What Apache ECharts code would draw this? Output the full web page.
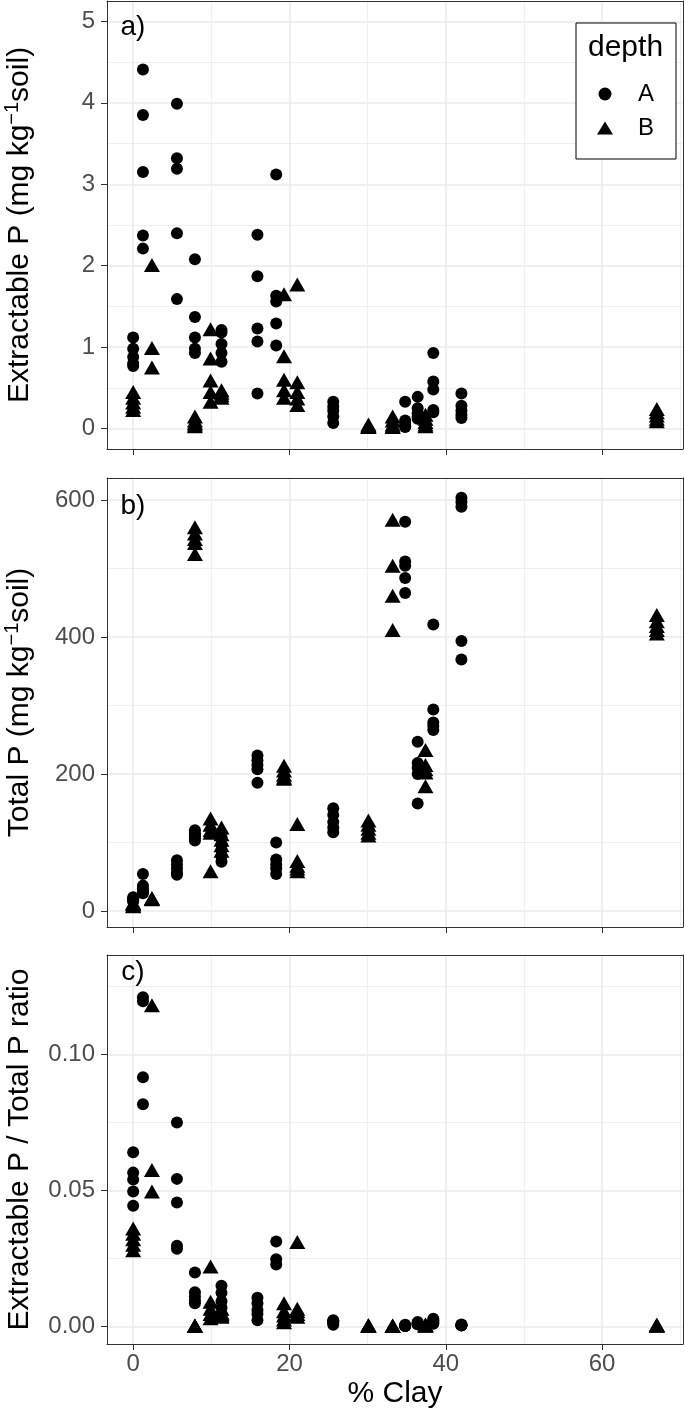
<!DOCTYPE html>
<html>
<head>
<meta charset="utf-8">
<script src="https://cdn.jsdelivr.net/npm/echarts@6.0.0/dist/echarts.min.js"></script>
<style>
html, body { margin: 0; padding: 0; background: #fff; }
#main { width: 685px; height: 1413px; }
</style>
</head>
<body>
<div id="main"></div>
<script>
var FONT = '"Liberation Sans", Arial, sans-serif';

// % clay of the sampling sites, depth A (circles) and depth B (triangles)
var clayA = [0, 1.25, 5.6, 7.9, 11.3, 15.9, 18.3, 25.6, 34.8, 36.4, 38.4, 42];
var clayB = [0, 2.4, 7.9, 9.9, 11.3, 19.3, 21, 30.1, 33.2, 37.4, 67];

// a) extractable P, one list per site
var extractA = [
  [1.12, 0.98, 0.88, 0.80, 0.77], [4.41, 3.85, 3.15, 2.37, 2.21], [3.99, 3.32, 3.19, 2.40, 1.59],
  [2.08, 1.37, 1.12, 0.98, 0.93], [1.21, 1.18, 1.04, 0.93, 0.82], [2.38, 1.87, 1.23, 1.07, 0.43],
  [3.12, 1.63, 1.56, 1.29, 1.02], [0.33, 0.27, 0.22, 0.15, 0.07], [0.33, 0.10, 0.06, 0.03, 0.02],
  [0.39, 0.25, 0.19, 0.15, 0.12], [0.93, 0.58, 0.48, 0.23, 0.20], [0.43, 0.28, 0.22, 0.17, 0.13]
];
var extractB = [
  [0.45, 0.38, 0.32, 0.27, 0.23], [2.01, 0.99, 0.75], [0.15, 0.10, 0.07, 0.05, 0.03],
  [1.22, 0.86, 0.59, 0.45, 0.33], [0.47, 0.44, 0.41, 0.38], [1.65, 0.89, 0.60, 0.47, 0.38],
  [1.77, 0.57, 0.45, 0.37, 0.29], [0.05, 0.04, 0.03, 0.02, 0.02], [0.15, 0.10, 0.05, 0.03, 0.02],
  [0.17, 0.12, 0.08, 0.05, 0.03], [0.24, 0.20, 0.16, 0.12, 0.09]
];

// b) total P
var totalA = [
  [20, 18, 17, 16, 14], [54, 37, 33, 29, 26], [74, 68, 62, 56, 53],
  [118, 113, 110, 106, 103], [108, 97, 89, 80, 72], [227, 220, 213, 207, 187],
  [100, 75, 68, 62, 54], [150, 140, 130, 122, 115], [568, 510, 504, 486, 464],
  [247, 216, 209, 200, 157], [418, 294, 275, 270, 264], [603, 597, 590, 394, 367]
];
var totalB = [
  [12, 11, 10, 8, 7], [19, 18, 17], [560, 551, 543, 537, 521],
  [135, 126, 118, 114, 58], [122, 112, 104, 96, 88], [212, 205, 199, 195, 193],
  [127, 73, 66, 62, 58], [132, 126, 120, 114, 110], [571, 504, 460, 410],
  [235, 213, 207, 202, 182], [432, 423, 416, 410, 405]
];

// c) extractable / total ratio
var ratioA = [
  [0.064, 0.0565, 0.054, 0.0496, 0.0443], [0.121, 0.1195, 0.0916, 0.0816], [0.0749, 0.0542, 0.0455, 0.0296, 0.0285],
  [0.0198, 0.0125, 0.011, 0.0095, 0.0085], [0.0149, 0.0123, 0.0092, 0.0068, 0.0043], [0.0105, 0.0085, 0.006, 0.0045, 0.0022],
  [0.0312, 0.0247, 0.0227], [0.0022, 0.002, 0.0017, 0.0012, 0.0006], [0.0006, 0.0002, 0.0001, 0.0001, 0.0001],
  [0.0016, 0.0012, 0.0009, 0.0008, 0.0008], [0.0028, 0.0022, 0.0018, 0.0012, 0.0009], [0.0007, 0.0005, 0.0004, 0.0004, 0.0003]
];
var ratioB = [
  [0.036, 0.034, 0.032, 0.030, 0.028], [0.118, 0.0575, 0.0496], [0.0003, 0.0002, 0.0001, 0.0001, 0.0001],
  [0.022, 0.009, 0.0065, 0.0045, 0.003], [0.0065, 0.005, 0.0045, 0.004, 0.0035], [0.0085, 0.0055, 0.004, 0.0025, 0.0015],
  [0.031, 0.0065, 0.0055, 0.0045, 0.0035], [0.0004, 0.0003, 0.0003, 0.0002, 0.0002], [0.0003, 0.0002, 0.0001, 0.0001],
  [0.0007, 0.0005, 0.0004, 0.0003, 0.0002], [0.0006, 0.0005, 0.0004, 0.0003, 0.0002]
];

var xMajor = [0, 20, 40, 60];
var xMinor = [10, 30, 50, 70];

function pairs(sites, vals) {
  var out = [];
  sites.forEach(function (x, i) {
    vals[i].forEach(function (v) { out.push([x, v]); });
  });
  return out;
}

var panels = [
  { top: 1, height: 448, yMin: -0.25, yMax: 5.25, major: [0, 1, 2, 3, 4, 5], minor: [0.5, 1.5, 2.5, 3.5, 4.5],
    name: 'Extractable P (mg kg{s|\u22121}soil)', A: extractA, B: extractB, tag: 'a)', tagY: 27 },
  { top: 478, height: 449, yMin: -23.4, yMax: 632, major: [0, 200, 400, 600], minor: [100, 300, 500],
    name: 'Total P (mg kg{s|\u22121}soil)', A: totalA, B: totalB, tag: 'b)', tagY: 506 },
  { top: 955, height: 389, yMin: -0.0065, yMax: 0.1365, major: [0, 0.05, 0.1], minor: [0.025, 0.075, 0.125],
    name: 'Extractable P / Total P ratio', A: ratioA, B: ratioB, tag: 'c)', tagY: 972,
    fmt: function (v) { return v.toFixed(2); } }
];

var majorLine = { show: true, lineStyle: { color: '#EBEBEB', width: 1.6 } };
var minorLine = { show: true, lineStyle: { color: '#EFEFEF', width: 1 } };
var border = { show: true, onZero: false, lineStyle: { color: '#333333', width: 1 } };

var grids = [], xAxes = [], yAxes = [], series = [], graphics = [];

panels.forEach(function (p, i) {
  var last = i === panels.length - 1;
  grids.push({ left: 107, top: p.top, width: 576, height: p.height, outerBoundsMode: 'none', containLabel: false });

  xAxes.push({
    type: 'value', gridIndex: i, position: 'bottom', min: -3.35, max: 70.35,
    axisLine: border,
    axisTick: { show: true, customValues: xMajor, length: 6, lineStyle: { color: '#333333' } },
    axisLabel: { show: last, customValues: xMajor, margin: 8, color: '#4D4D4D', fontSize: 24, fontFamily: FONT },
    splitLine: majorLine,
    name: last ? '% Clay' : '', nameLocation: 'middle', nameGap: 35,
    nameTextStyle: { fontSize: 30, color: '#000', fontFamily: FONT }
  });
  xAxes.push({
    type: 'value', gridIndex: i, position: 'top', min: -3.35, max: 70.35,
    axisLine: border,
    axisTick: { show: false, customValues: xMinor },
    axisLabel: { show: false },
    splitLine: minorLine
  });

  yAxes.push({
    type: 'value', gridIndex: i, position: 'left', min: p.yMin, max: p.yMax,
    axisLine: border,
    axisTick: { show: true, customValues: p.major, length: 6, lineStyle: { color: '#333333' } },
    axisLabel: { customValues: p.major, margin: 12, color: '#4D4D4D', fontSize: 24, fontFamily: FONT,
      formatter: p.fmt || function (v) { return String(v); } },
    splitLine: majorLine,
    name: p.name, nameLocation: 'middle', nameGap: 69,
    nameTextStyle: { fontSize: 30, color: '#000', fontFamily: FONT, lineHeight: 36,
      rich: { s: { fontSize: 20, lineHeight: 20, verticalAlign: 'top', color: '#000', fontFamily: FONT } } }
  });
  yAxes.push({
    type: 'value', gridIndex: i, position: 'right', min: p.yMin, max: p.yMax,
    axisLine: border,
    axisTick: { show: false, customValues: p.minor },
    axisLabel: { show: false },
    splitLine: minorLine
  });

  series.push({
    type: 'scatter', name: 'A', xAxisIndex: 2 * i, yAxisIndex: 2 * i,
    symbol: 'circle', symbolSize: 12, itemStyle: { color: '#000', opacity: 1 },
    data: pairs(clayA, p.A)
  });
  series.push({
    type: 'scatter', name: 'B', xAxisIndex: 2 * i, yAxisIndex: 2 * i,
    symbol: 'triangle', symbolSize: [16, 14], itemStyle: { color: '#000', opacity: 1 },
    data: pairs(clayB, p.B)
  });

  graphics.push({
    type: 'text', x: 133, y: p.tagY, z: 10,
    style: { text: p.tag, fontSize: 28, fontFamily: FONT, fill: '#000', align: 'center', verticalAlign: 'middle' }
  });
});

graphics.push({
  type: 'text', x: 588, y: 48, z: 10,
  style: { text: 'depth', fontSize: 30, fontFamily: FONT, fill: '#000', align: 'left', verticalAlign: 'middle' }
});

var myChart = echarts.init(document.getElementById('main'), null, { renderer: 'canvas' });
var option = {
  animation: false,
  backgroundColor: '#fff',
  grid: grids,
  xAxis: xAxes,
  yAxis: yAxes,
  legend: {
    show: true, orient: 'vertical', left: 576, top: 23,
    padding: [59, 22, 19, 21], itemWidth: 16, itemHeight: 13, itemGap: 10,
    borderColor: '#000', borderWidth: 1, backgroundColor: '#fff', selectedMode: false,
    data: [{ name: 'A', icon: 'circle' }, { name: 'B', icon: 'triangle' }],
    itemStyle: { color: '#000' },
    textStyle: { fontSize: 24, lineHeight: 24, color: '#000', fontFamily: FONT, padding: [0, 0, 0, 20] }
  },
  graphic: graphics,
  series: series
};
myChart.setOption(option);
window.onresize = myChart.resize;
</script>
</body>
</html>
